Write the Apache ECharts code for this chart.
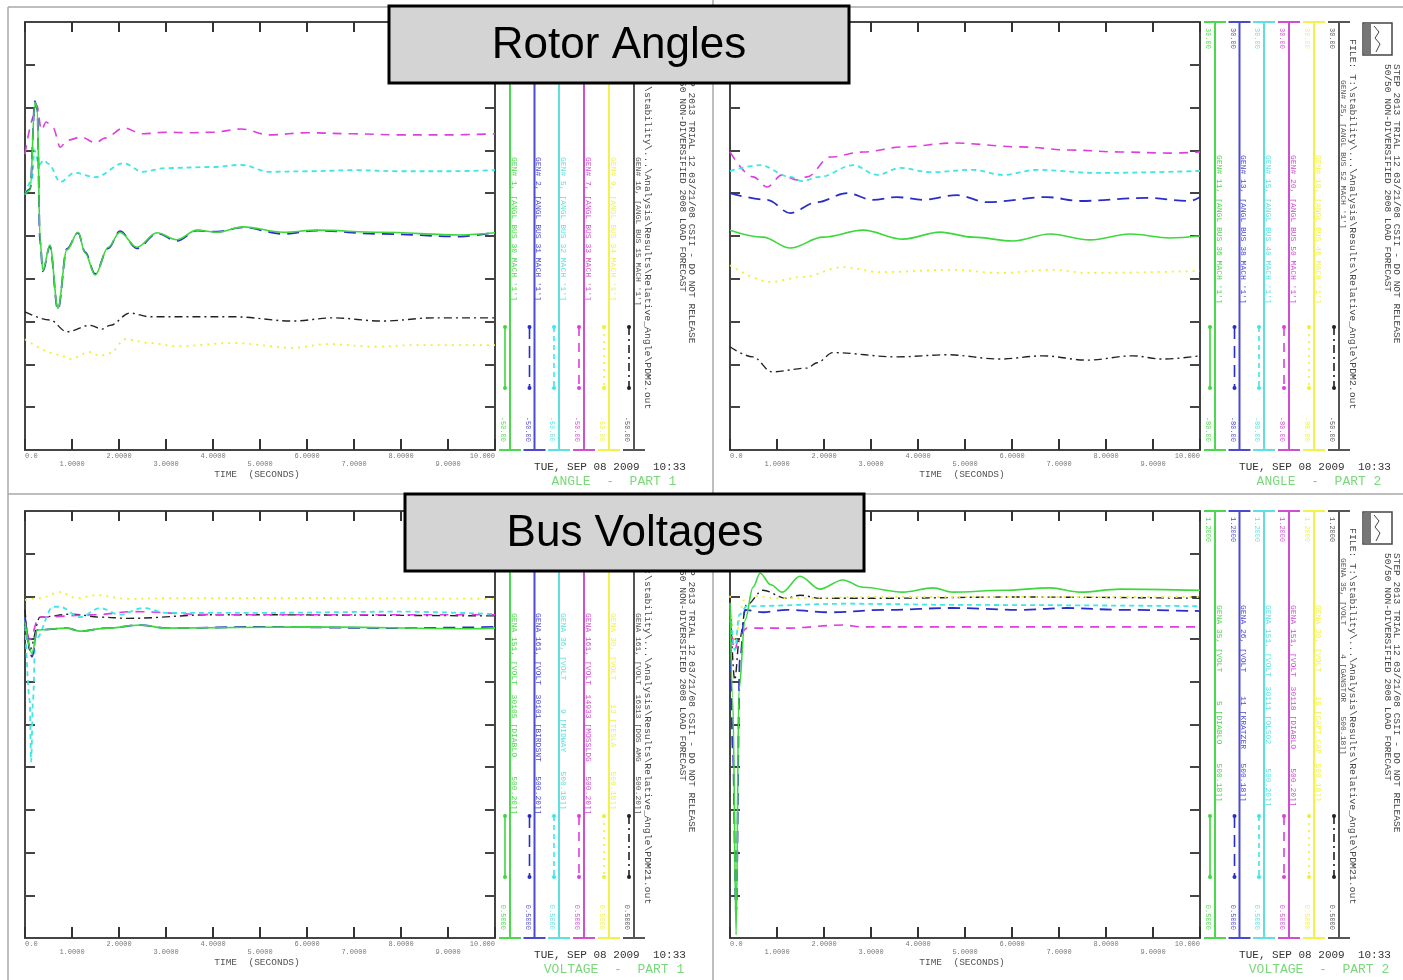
<!DOCTYPE html>
<html>
<head>
<meta charset="utf-8">
<script src="https://cdn.jsdelivr.net/npm/echarts@6/dist/echarts.min.js"></script>
<style>
html, body { margin: 0; padding: 0; background: #fff; }
#chart { width: 1403px; height: 980px; }
</style>
</head>
<body>
<div id="chart"></div>
<script>
// ---- data: [time (s), value] ----
// ANGLE - PART 1 (deg)
var a1Green = [[0,-2.3],[0.11,-1.4],[0.21,15.0],[0.26,13.9],[0.32,-10.7],[0.38,-16.4],[0.53,-11.7],[0.7,-23.5],[0.89,-12.6],[1.13,-9.3],[1.28,-13.2],[1.49,-17.3],[1.77,-12.1],[2.02,-9.3],[2.38,-12.1],[2.81,-9.4],[3.23,-10.7],[3.66,-8.9],[4.09,-9.3],[4.64,-8.3],[5.49,-9.3],[6.21,-8.9],[7.55,-9.3],[9.26,-9.8],[10,-9.4]];
var a1Blue = [[0,-2.3],[0.11,-1.2],[0.21,15.2],[0.26,13.6],[0.32,-11.0],[0.38,-16.6],[0.53,-11.9],[0.7,-23.8],[0.89,-12.4],[1.13,-9.4],[1.28,-13.0],[1.49,-17.1],[1.77,-12.3],[2.02,-9.1],[2.38,-12.3],[2.81,-9.5],[3.23,-10.9],[3.66,-9.0],[4.09,-9.2],[4.64,-8.4],[5.49,-9.6],[6.21,-9.0],[7.55,-9.6],[9.26,-10.1],[10,-9.3]];
var a1Cyan = [[0,-2.3],[0.15,0.5],[0.2,6.1],[0.3,3.3],[0.4,4.2],[0.5,3.5],[0.75,0.1],[1.05,1.8],[1.5,1.0],[2.1,3.6],[2.5,2.0],[3.0,2.7],[4.0,2.9],[4.6,3.3],[5.2,2.0],[6.0,2.1],[7,2.3],[8,2.1],[9,2.1],[10,2.3]];
var a1Magenta = [[0,5.3],[0.2,12.6],[0.25,14.5],[0.35,9.8],[0.45,11.3],[0.6,10.2],[0.75,6.6],[0.9,7.9],[1.2,8.5],[1.5,7.4],[1.7,8.3],[2.1,10.2],[2.5,9.1],[3.0,9.4],[3.5,9.3],[4.0,9.4],[4.6,10.0],[5.2,8.9],[6.0,9.3],[7.0,9.1],[8.0,8.9],[9.0,8.9],[10,9.1]];
var a1Yellow = [[0,-29.3],[0.74,-32.2],[0.96,-33.0],[1.38,-31.7],[1.6,-32.4],[1.81,-31.9],[2.13,-29.3],[2.66,-30.0],[3.23,-30.6],[4.43,-30.0],[5.7,-30.9],[6.43,-30.2],[7.49,-30.7],[8.26,-30.4],[10,-30.4]];
var a1Black = [[0,-24.2],[0.53,-25.7],[0.89,-27.9],[1.38,-26.7],[1.64,-27.4],[1.81,-26.7],[2.23,-24.4],[2.66,-25.1],[4.43,-25.1],[5.7,-25.9],[6.55,-25.3],[7.6,-25.9],[8.7,-25.3],[10,-25.3]];

// ANGLE - PART 2 (deg)
var a2Green = [[0,-23.5],[0.7,-25.3],[1.28,-28.1],[1.98,-25.3],[2.83,-23.5],[3.68,-25.8],[4.47,-24.0],[5.17,-25.3],[6.02,-26.3],[6.81,-24.5],[7.66,-26.0],[8.51,-24.5],[9.36,-25.5],[10,-25.0]];
var a2Blue = [[0,-14.0],[0.79,-15.7],[1.28,-19.1],[1.85,-16.3],[2.49,-14.0],[3.04,-15.7],[3.55,-15.0],[4.11,-15.7],[4.83,-14.5],[5.47,-16.3],[6.74,-15.0],[7.45,-16.0],[8.87,-15.2],[9.79,-16.0],[10,-15.0]];
var a2Cyan = [[0,-8.3],[0.64,-6.8],[1.28,-9.8],[1.53,-10.9],[1.91,-9.8],[2.62,-6.8],[3.13,-9.3],[3.62,-7.5],[4.26,-8.6],[5.17,-8.0],[5.81,-9.3],[6.53,-8.0],[7.81,-8.8],[10,-8.3]];
var a2Magenta = [[0,-3.4],[0.49,-9.8],[0.79,-12.4],[1.11,-9.3],[1.43,-10.6],[1.64,-9.8],[2.13,-4.7],[2.83,-3.4],[3.68,-2.1],[4.74,-1.1],[6.17,-2.1],[7.23,-2.9],[8.3,-3.4],[9.36,-3.7],[10,-3.4]];
var a2Yellow = [[0,-32.5],[0.85,-36.8],[1.55,-35.5],[2.4,-33.0],[3.19,-34.3],[4.74,-33.7],[5.74,-34.5],[6.87,-33.7],[7.6,-34.5],[10,-34.0]];
var a2Black = [[0,-30.7],[0.49,-32.6],[0.89,-35.4],[1.64,-34.7],[1.85,-33.7],[2.19,-31.8],[3.55,-32.6],[4.62,-32.2],[5.74,-33.0],[6.66,-32.4],[7.6,-33.2],[8.57,-32.4],[9.21,-33.0],[10,-32.4]];

// VOLTAGE - PART 1 (pu)
var v1Green = [[0,1.018],[0.15,0.967],[0.26,1.005],[0.9,1.008],[1.17,1.003],[1.74,1.008],[2.45,1.013],[3.02,1.008],[6,1.010],[9.5,1.007],[10,1.008]];
var v1Blue = [[0,1.026],[0.15,0.961],[0.26,1.005],[0.9,1.008],[1.17,1.003],[1.74,1.008],[2.45,1.013],[3.02,1.008],[5,1.010],[8,1.008],[10,1.010]];
var v1Cyan = [[0,1.026],[0.1,0.890],[0.13,0.789],[0.17,0.890],[0.22,0.989],[0.6,1.043],[0.74,1.043],[1.17,1.026],[1.6,1.041],[2.02,1.030],[2.51,1.041],[3.02,1.033],[5,1.033],[8,1.035],[10,1.031]];
var v1Magenta = [[0,1.025],[0.1,0.989],[0.3,1.026],[1.5,1.030],[2.3,1.035],[4,1.030],[10,1.030]];
var v1Yellow = [[0,1.054],[0.32,1.057],[0.74,1.067],[1.11,1.057],[1.53,1.062],[2.17,1.056],[3.02,1.057],[5.85,1.057],[10,1.056]];
var v1Black = [[0,1.038],[0.1,0.972],[0.32,1.026],[1.0,1.031],[1.6,1.026],[2.2,1.024],[4.0,1.030],[10,1.028]];

// VOLTAGE - PART 2 (pu)
var v2Green = [[0,1.049],[0.06,0.890],[0.13,0.505],[0.19,0.907],[0.32,1.021],[0.49,1.075],[0.64,1.098],[0.87,1.079],[1.11,1.067],[1.49,1.093],[1.91,1.072],[2.4,1.087],[2.83,1.075],[3.68,1.067],[4.32,1.074],[4.74,1.067],[5.81,1.070],[6.81,1.074],[7.45,1.067],[8.3,1.072],[10,1.070]];
var v2Blue = [[0,1.049],[0.06,0.808],[0.13,0.541],[0.21,0.956],[0.32,1.038],[0.7,1.034],[1.2,1.038],[2.13,1.034],[3.32,1.038],[4.74,1.041],[6.17,1.038],[7.17,1.041],[8.3,1.038],[10,1.036]];
var v2Cyan = [[0,1.049],[0.1,0.972],[0.2,1.030],[0.36,1.044],[2.49,1.048],[4.96,1.046],[10,1.044]];
var v2Magenta = [[0,1.021],[0.1,0.972],[0.2,0.997],[0.36,1.008],[1.2,1.008],[2.4,1.013],[2.83,1.010],[10,1.010]];
var v2Yellow = [[0,1.061],[0.1,0.989],[0.3,1.054],[0.5,1.061],[1.0,1.057],[3,1.059],[10,1.059]];
var v2Black = [[0,1.057],[0.1,0.923],[0.2,0.989],[0.35,1.046],[0.7,1.070],[1.2,1.057],[1.49,1.062],[1.91,1.057],[3.3,1.057],[6,1.059],[10,1.057]];

// ---- labels ----
var xTickLabels = ['0.0','1.0000','2.0000','3.0000','4.0000','5.0000','6.0000','7.0000','8.0000','9.0000','10.000'];
var angleNames1 = ["GEN# 1, [ANGL BUS 30 MACH '1']", "GEN# 2, [ANGL BUS 31 MACH '1']", "GEN# 5, [ANGL BUS 32 MACH '1']", "GEN# 7, [ANGL BUS 33 MACH '1']", "GEN# 9, [ANGL BUS 34 MACH '1']", "GEN# 16, [ANGL BUS 15 MACH '1']"];
var angleNames2 = ["GEN# 11, [ANGL BUS 36 MACH '1']", "GEN# 13, [ANGL BUS 38 MACH '1']", "GEN# 15, [ANGL BUS 40 MACH '1']", "GEN# 20, [ANGL BUS 50 MACH '1']", "GEN# 18, [ANGL BUS 46 MACH '1']", "GEN# 25, [ANGL BUS 52 MACH '1']"];
var voltNames1 = ["GENA 151, [VOLT  30105 [DIABLO    500.20]]", "GENA 161, [VOLT  30101 [BIRDSNT   500.20]]", "GENA 36, [VOLT      9 [MIDWAY    500.18]]", "GENA 161, [VOLT  14933 [MOSSLDG   500.20]]", "GENA 30, [VOLT     13 [TESLA     500.18]]", "GENA 161, [VOLT  16313 [DOS AMG   500.20]]"];
var voltNames2 = ["GENA 35, [VOLT      5 [DIABLO    500.18]]", "GENA 26, [VOLT     11 [KRATZER   500.18]]", "GENA 151, [VOLT  30111 [OLS02     500.20]]", "GENA 151, [VOLT  30118 [DIABLO    500.20]]", "GENA 30, [VOLT     15 [CAPT.CAP  500.18]]", "GENA 35, [VOLT      4 [GANSTOR   500.18]]"];
var angleTop = ['30.00','30.00','30.00','30.00','30.00','30.00'];
var angleBot1 = ['-50.00','-50.00','-50.00','-50.00','-50.00','-50.00'];
var angleBot2 = ['-80.00','-80.00','-80.00','-80.00','-80.00','-50.00'];
var voltTop = ['1.2000','1.2000','1.2000','1.2000','1.2000','1.2000'];
var voltBot = ['0.5000','0.5000','0.5000','0.5000','0.5000','0.5000'];
var header1 = 'STEP 2013 TRIAL 12 03/21/08 CSII - DO NOT RELEASE';
var header2 = '50/50 NON-DIVERSIFIED 2008 LOAD FORECAST';
var fileAngle = 'FILE: T:\\stability\\...\\Analysis\\Results\\Relative_Angle\\PDM2.out';
var fileVolt = 'FILE: T:\\stability\\...\\Analysis\\Results\\Relative_Angle\\PDM21.out';
var stamp = 'TUE, SEP 08 2009  10:33';

// column order: green, blue, cyan, magenta, yellow, black
var lineColors = ['#3cd83c', '#2a2ec8', '#3ee6e6', '#de3ede', '#f0f032', '#222222'];
var colColors = ['#4cd84c', '#4a4ad0', '#5ee0e0', '#d04ed0', '#f2f24a', '#555555'];
var dashes = [null, [12, 7], [5, 4], [9, 7], [2, 5], [8, 4, 2, 4]];
var widths = [1.6, 1.8, 1.8, 1.6, 1.8, 1.4];
var colOffsets = [485, 509.5, 534, 559, 584, 609];
var mono = '"Liberation Mono", "DejaVu Sans Mono", monospace';

var panels = [
	{ px: 25, py: 22, h: 428, yMin: -50, yMax: 30, y2Min: -50, y2Max: 30, blackRight: false,
	  data: [a1Green, a1Blue, a1Cyan, a1Magenta, a1Yellow, a1Black], names: angleNames1,
	  top: angleTop, bot: angleBot1, nameY: 135, blackY: 135, file: fileAngle, part: 'ANGLE  -  PART 1' },
	{ px: 730, py: 22, h: 428, yMin: -80, yMax: 30, y2Min: -50, y2Max: 30, blackRight: true,
	  data: [a2Green, a2Blue, a2Cyan, a2Magenta, a2Yellow, a2Black], names: angleNames2,
	  top: angleTop, bot: angleBot2, nameY: 133, blackY: 58, file: fileAngle, part: 'ANGLE  -  PART 2' },
	{ px: 25, py: 511, h: 427, yMin: 0.5, yMax: 1.2, y2Min: 0.5, y2Max: 1.2, blackRight: false,
	  data: [v1Green, v1Blue, v1Cyan, v1Magenta, v1Yellow, v1Black], names: voltNames1,
	  top: voltTop, bot: voltBot, nameY: 102, blackY: 102, file: fileVolt, part: 'VOLTAGE  -  PART 1' },
	{ px: 730, py: 511, h: 427, yMin: 0.5, yMax: 1.2, y2Min: 0.5, y2Max: 1.2, blackRight: false,
	  data: [v2Green, v2Blue, v2Cyan, v2Magenta, v2Yellow, v2Black], names: voltNames2,
	  top: voltTop, bot: voltBot, nameY: 94, blackY: 47, file: fileVolt, part: 'VOLTAGE  -  PART 2' }
];

function tickList(min, max) {
	var out = [];
	for (var k = 0; k <= 10; k++) out.push(min + (max - min) * k / 10);
	return out;
}

function rotText(x, y, text, color, size, align) {
	return { type: 'text', x: x, y: y, rotation: -Math.PI / 2, z: 10, silent: true,
		style: { text: text, fill: color, font: size + 'px ' + mono, align: align || 'left', verticalAlign: 'middle' } };
}

function hLine(x1, y1, x2, y2, color, w, dash) {
	return { type: 'line', silent: true, z: 5, shape: { x1: x1, y1: y1, x2: x2, y2: y2 },
		style: { stroke: color, lineWidth: w, lineDash: dash || null } };
}

var grids = [], xAxes = [], yAxes = [], series = [], graphics = [];
var axisLineStyle = { color: '#444', width: 2 };

panels.forEach(function (p, i) {
	grids.push({ left: p.px, top: p.py, width: 470, height: p.h });
	xAxes.push({
		type: 'value', gridIndex: i, position: 'bottom', min: 0, max: 10, interval: 1,
		axisLine: { onZero: false, lineStyle: axisLineStyle },
		axisTick: { inside: true, length: 11, lineStyle: { color: '#333', width: 2 } },
		splitLine: { show: false },
		axisLabel: {
			margin: 2, fontSize: 7, lineHeight: 8, color: '#777', fontFamily: mono,
			alignMinLabel: 'left', alignMaxLabel: 'right',
			formatter: function (v) {
				var n = Math.round(v);
				return n % 2 ? '\n' + xTickLabels[n] : xTickLabels[n];
			}
		}
	});
	xAxes.push({
		type: 'value', gridIndex: i, position: 'top', min: 0, max: 10, interval: 1,
		axisLine: { onZero: false, lineStyle: axisLineStyle },
		axisTick: { inside: true, length: 10, lineStyle: { color: '#333', width: 2 } },
		axisLabel: { show: false }, splitLine: { show: false }
	});
	yAxes.push({
		type: 'value', gridIndex: i, position: 'left', min: p.yMin, max: p.yMax,
		axisLine: { show: true, onZero: false, lineStyle: axisLineStyle },
		axisTick: { show: true, inside: true, length: 10, customValues: tickList(p.yMin, p.yMax), lineStyle: { color: '#444', width: 2 } },
		axisLabel: { show: false }, splitLine: { show: false }
	});
	yAxes.push({
		type: 'value', gridIndex: i, position: 'right', min: p.y2Min, max: p.y2Max,
		axisLine: { show: true, onZero: false, lineStyle: axisLineStyle },
		axisTick: { show: true, inside: true, length: 10, customValues: tickList(p.y2Min, p.y2Max), lineStyle: { color: '#444', width: 2 } },
		axisLabel: { show: false }, splitLine: { show: false }
	});

	// black first, green last (on top)
	[5, 4, 3, 2, 1, 0].forEach(function (k) {
		series.push({
			type: 'line', xAxisIndex: 2 * i,
			yAxisIndex: (p.blackRight && k === 5) ? 2 * i + 1 : 2 * i,
			data: p.data[k], showSymbol: false, smooth: 0.35, smoothMonotone: 'x',
			silent: true, animation: false,
			lineStyle: { color: lineColors[k], width: widths[k], type: dashes[k] || 'solid' }
		});
	});

	// legend columns
	var bottom = p.py + p.h;
	colOffsets.forEach(function (off, k) {
		var lx = p.px + off;
		var c = colColors[k];
		graphics.push(hLine(lx, p.py, lx, bottom, c, 2));
		graphics.push(hLine(lx - 11, p.py, lx + 11, p.py, c, 2));
		graphics.push(hLine(lx - 11, bottom, lx + 11, bottom, c, 2));
		graphics.push(rotText(lx - 7, p.py + 6, p.top[k], c, 7, 'left'));
		graphics.push(rotText(lx - 7, bottom - 8, p.bot[k], c, 7, 'right'));
		graphics.push(rotText(lx + 4, p.py + (k === 5 ? p.blackY : p.nameY), p.names[k], c, 8, 'left'));
		graphics.push(hLine(lx - 5, p.py + 305, lx - 5, p.py + 366, lineColors[k], 1.6, dashes[k]));
		[p.py + 305, p.py + 366].forEach(function (yy) {
			graphics.push({ type: 'circle', silent: true, z: 6, shape: { cx: lx - 5, cy: yy, r: 2 }, style: { fill: lineColors[k] } });
		});
	});

	// header and file text
	graphics.push(rotText(p.px + 667, p.py + 42, header1, '#444', 9.5, 'left'));
	graphics.push(rotText(p.px + 658, p.py + 42, header2, '#444', 9.5, 'left'));
	graphics.push(rotText(p.px + 623, p.py + 17, p.file, '#444', 9.8, 'left'));
	// logo
	graphics.push({ type: 'rect', silent: true, z: 5, shape: { x: p.px + 633, y: p.py + 1, width: 29, height: 32 }, style: { fill: 'none', stroke: '#444', lineWidth: 1.5 } });
	graphics.push({ type: 'polyline', silent: true, z: 5, shape: { points: [[p.px + 644, p.py + 4], [p.px + 649, p.py + 10], [p.px + 645, p.py + 16], [p.px + 650, p.py + 22], [p.px + 646, p.py + 30]] }, style: { fill: 'none', stroke: '#444', lineWidth: 1 } });
	graphics.push({ type: 'rect', silent: true, z: 5, shape: { x: p.px + 634, y: p.py + 2, width: 7, height: 30 }, style: { fill: '#777' } });

	// axis title, stamp and part label
	graphics.push({ type: 'text', silent: true, z: 10, x: p.px + 232, y: bottom + 24,
		style: { text: 'TIME  (SECONDS)', font: '9.5px ' + mono, fill: '#555', align: 'center', verticalAlign: 'middle' } });
	graphics.push({ type: 'text', silent: true, z: 10, x: p.px + 585, y: bottom + 17,
		style: { text: stamp, font: '11px ' + mono, fill: '#333', align: 'center', verticalAlign: 'middle' } });
	graphics.push({ type: 'text', silent: true, z: 10, x: p.px + 589, y: bottom + 32,
		style: { text: p.part, font: '13px ' + mono, fill: '#7ad87a', align: 'center', verticalAlign: 'middle' } });
});

// panel frames
graphics.push(hLine(8, 7, 8, 980, '#a8a8a8', 1.5));
graphics.push(hLine(713, 0, 713, 980, '#a8a8a8', 1.5));
graphics.push(hLine(8, 7, 1403, 7, '#a8a8a8', 1.5));
graphics.push(hLine(8, 494, 1403, 494, '#a8a8a8', 1.5));

// overlay title boxes
graphics.push({ type: 'rect', silent: true, z: 100, shape: { x: 389, y: 6, width: 460, height: 77 }, style: { fill: '#d4d4d4', stroke: '#000', lineWidth: 3 } });
graphics.push({ type: 'text', silent: true, z: 101, x: 619, y: 46, style: { text: 'Rotor Angles', font: '44px "Liberation Sans", Arial, sans-serif', fill: '#000', align: 'center', verticalAlign: 'middle' } });
graphics.push({ type: 'rect', silent: true, z: 100, shape: { x: 405, y: 494, width: 459, height: 77 }, style: { fill: '#d4d4d4', stroke: '#000', lineWidth: 3 } });
graphics.push({ type: 'text', silent: true, z: 101, x: 635, y: 534, style: { text: 'Bus Voltages', font: '44px "Liberation Sans", Arial, sans-serif', fill: '#000', align: 'center', verticalAlign: 'middle' } });

var chart = echarts.init(document.getElementById('chart'));
chart.setOption({
	backgroundColor: '#ffffff',
	animation: false,
	grid: grids,
	xAxis: xAxes,
	yAxis: yAxes,
	series: series,
	graphic: { elements: graphics }
});
</script>
</body>
</html>
